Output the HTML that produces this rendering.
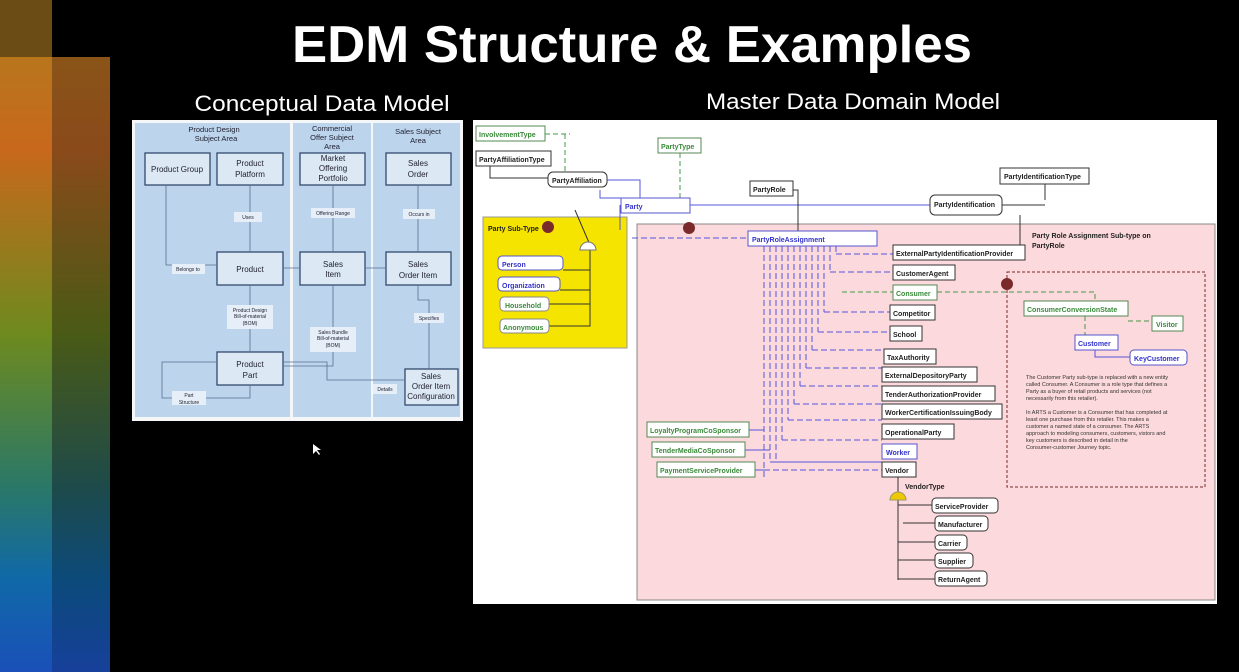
<!DOCTYPE html>
<html><head><meta charset="utf-8"><style>
html,body{margin:0;padding:0;background:#000;width:1239px;height:672px;overflow:hidden}
svg{display:block;font-family:"Liberation Sans",sans-serif}
</style></head><body>
<svg width="1239" height="672" viewBox="0 0 1239 672" xmlns="http://www.w3.org/2000/svg">
<defs>
<linearGradient id="g1" x1="0" y1="0" x2="0" y2="1">
<stop offset="0" stop-color="#b8761c"/><stop offset="0.15" stop-color="#c8681c"/><stop offset="0.45" stop-color="#6e8a1e"/><stop offset="0.7" stop-color="#2a7868"/><stop offset="0.85" stop-color="#1068a8"/><stop offset="1" stop-color="#1a50b8"/></linearGradient>
<linearGradient id="g2" x1="0" y1="0" x2="0" y2="1">
<stop offset="0" stop-color="#8a5418"/><stop offset="0.15" stop-color="#8a4a1a"/><stop offset="0.45" stop-color="#4a5a16"/><stop offset="0.7" stop-color="#1d4a4a"/><stop offset="0.85" stop-color="#0c4a7a"/><stop offset="1" stop-color="#16409a"/></linearGradient>
</defs>
<rect width="1239" height="672" fill="#000"/>
<rect x="0" y="0" width="52" height="57" fill="#6a4c14"/>
<rect x="0" y="57" width="52" height="615" fill="url(#g1)"/>
<rect x="52" y="57" width="58" height="615" fill="url(#g2)"/>
<text x="632" y="62" font-size="52" font-weight="bold" fill="#fff" text-anchor="middle" textLength="680" lengthAdjust="spacingAndGlyphs">EDM Structure &amp; Examples</text>
<text x="322" y="111" font-size="22" fill="#fff" text-anchor="middle" textLength="255" lengthAdjust="spacingAndGlyphs">Conceptual Data Model</text>
<text x="853" y="109" font-size="22" fill="#fff" text-anchor="middle" textLength="294" lengthAdjust="spacingAndGlyphs">Master Data Domain Model</text>

<!-- Left diagram -->
<rect x="132" y="120" width="331" height="301" fill="#f4f6f8"/>
<rect x="135" y="123" width="155" height="294" fill="#bcd4ec"/>
<rect x="293" y="123" width="78" height="294" fill="#bcd4ec"/>
<rect x="373" y="123" width="87" height="294" fill="#bcd4ec"/>
<g font-size="7.5" fill="#223" text-anchor="middle">
<text x="214" y="132">Product Design</text><text x="216" y="141">Subject Area</text>
<text x="332" y="131">Commercial</text><text x="332" y="140">Offer  Subject</text><text x="332" y="149">Area</text>
<text x="418" y="134">Sales   Subject</text><text x="418" y="143">Area</text>
</g>
<g fill="#dce8f4" stroke="#334a6e" stroke-width="1.3">
<rect x="145" y="153" width="65" height="32"/><rect x="217" y="153" width="66" height="32"/>
<rect x="300" y="153" width="65" height="32"/><rect x="386" y="153" width="65" height="32"/>
<rect x="217" y="252" width="66" height="33"/><rect x="300" y="252" width="65" height="33"/>
<rect x="386" y="252" width="65" height="33"/><rect x="217" y="352" width="66" height="33"/>
<rect x="405" y="369" width="53" height="36"/>
</g>
<g stroke="#5a7090" stroke-width="0.8" fill="none">
<path d="M166 185V265H217M250 185V252M333 185V252M418 185V252M250 285V352M333 285V352V366H283M283 268H300M365 268H386M418 285V300H429V369M283 362H327V380H405M217 362H162V398H250V385"/>
</g>
<g font-size="8" fill="#223" text-anchor="middle">
<text x="177" y="172">Product Group</text>
<text x="250" y="166">Product</text><text x="250" y="177">Platform</text>
<text x="333" y="161">Market</text><text x="333" y="171">Offering</text><text x="333" y="181">Portfolio</text>
<text x="418" y="166">Sales</text><text x="418" y="177">Order</text>
<text x="250" y="272">Product</text>
<text x="333" y="267">Sales</text><text x="333" y="277">Item</text>
<text x="418" y="267">Sales</text><text x="418" y="278">Order Item</text>
<text x="250" y="367">Product</text><text x="250" y="378">Part</text>
<text x="431" y="379">Sales</text><text x="431" y="389">Order Item</text><text x="431" y="399">Configuration</text>
</g>
<g fill="#e6eef8"><rect x="234" y="212" width="28" height="10"/><rect x="311" y="208" width="44" height="10"/><rect x="403" y="209" width="32" height="10"/><rect x="172" y="264" width="33" height="10"/><rect x="227" y="305" width="46" height="24"/><rect x="310" y="327" width="46" height="25"/><rect x="414" y="313" width="30" height="10"/><rect x="373" y="384" width="24" height="10"/><rect x="172" y="391" width="34" height="14"/></g>
<g font-size="5" fill="#223" text-anchor="middle">
<text x="248" y="219">Uses</text><text x="333" y="215">Offering Range</text><text x="419" y="216">Occurs in</text><text x="188" y="271">Belongs to</text>
<text x="250" y="312">Product Design</text><text x="250" y="318">Bill-of-material</text><text x="250" y="325">(BOM)</text>
<text x="333" y="334">Sales Bundle</text><text x="333" y="340">Bill-of-material</text><text x="333" y="347">(BOM)</text>
<text x="429" y="320">Specifies</text><text x="385" y="391">Details</text><text x="189" y="397">Part</text><text x="189" y="404">Structure</text>
</g>
<path d="M313 444l0 10 3-3 3 4 1-1-3-4h4z" fill="#fff"/>

<!-- Right diagram -->
<rect x="473" y="120" width="744" height="484" fill="#fff"/>
<rect x="637" y="224" width="578" height="376" fill="#fcd9dc" stroke="#888" stroke-width="1"/>
<rect x="483" y="217" width="144" height="131" fill="#f5e400" stroke="#999"/>
<rect x="1007" y="272" width="198" height="215" fill="none" stroke="#7a2a2a" stroke-width="1" stroke-dasharray="3,2"/>
<g stroke="#5555dd" stroke-width="1" fill="none">
<path d="M690 205H930M607 180H640V198M600 190V198H621M620 205V230"/>
<path d="M770 246V462M776 246V462M782 246V440M788 246V420M794 246V404M800 246V386M806 246V368M812 246V350M818 246V332M824 246V312M830 246V272M836 246V254M764 246V480" stroke-dasharray="6,3"/>
<path d="M836 254H893M830 272H893M824 312H890M818 332H890M812 350H884M806 368H882M800 386H882M794 404H882M788 420H882M782 440H882M776 462H882M770 462H882M764 470H882M632 238H748" stroke-dasharray="6,3"/>
<path d="M749 430H764M745 450H770M755 470H764M1118 357H1130M1095 350V357H1118"/>
</g>
<g stroke="#449944" stroke-width="1" fill="none" stroke-dasharray="5,3"><path d="M545 134H570M565 134V172M680 153V198M842 292H893M937 292H1095V301M1085 316V335M1128 321H1152"/></g>
<g stroke="#333" stroke-width="1" fill="none"><path d="M490 166V178H548M793 190H798V231M1045 184V200M1002 205H1045M1020 215V245M575 210L590 245M590 245V270H563M590 245V290H560M590 245V304H549M590 245V326H549M898 476V580M898 505H932M903 523H935M898 542H935M898 560H935M898 579H935"/></g>
<g font-size="7" font-weight="bold">
<g fill="#fff" stroke="#558855"><rect x="476" y="126" width="69" height="15"/><rect x="658" y="138" width="43" height="15"/><rect x="893" y="285" width="44" height="15"/><rect x="1024" y="301" width="104" height="15"/><rect x="1152" y="316" width="31" height="15"/><rect x="647" y="422" width="102" height="15"/><rect x="652" y="442" width="93" height="15"/><rect x="657" y="462" width="98" height="15"/></g>
<g fill="#fff" stroke="#333"><rect x="476" y="151" width="75" height="15"/><rect x="548" y="172" width="59" height="15" rx="5"/><rect x="750" y="181" width="43" height="15"/><rect x="1000" y="168" width="89" height="16"/><rect x="930" y="195" width="72" height="20" rx="5"/><rect x="893" y="245" width="132" height="15"/><rect x="893" y="265" width="62" height="15"/><rect x="890" y="305" width="45" height="15"/><rect x="890" y="326" width="32" height="15"/><rect x="884" y="349" width="52" height="15"/><rect x="882" y="367" width="95" height="15"/><rect x="882" y="386" width="113" height="15"/><rect x="882" y="404" width="120" height="15"/><rect x="882" y="424" width="72" height="15"/><rect x="882" y="462" width="34" height="15"/><rect x="932" y="498" width="66" height="15" rx="4"/><rect x="935" y="516" width="53" height="15" rx="4"/><rect x="935" y="535" width="32" height="15" rx="4"/><rect x="935" y="553" width="38" height="15" rx="4"/><rect x="935" y="571" width="52" height="15" rx="4"/></g>
<g fill="#fff" stroke="#5555cc"><rect x="621" y="198" width="69" height="15"/><rect x="748" y="231" width="129" height="15"/><rect x="882" y="444" width="35" height="15"/><rect x="1075" y="335" width="43" height="15"/><rect x="1130" y="350" width="57" height="15" rx="4"/><rect x="498" y="256" width="65" height="14" rx="4"/><rect x="498" y="277" width="62" height="14" rx="4"/></g>
<g fill="#fff" stroke="#888"><rect x="500" y="297" width="49" height="14" rx="4"/><rect x="500" y="319" width="49" height="14" rx="4"/></g>
<g fill="#3a8a3a"><text x="479" y="137">InvolvementType</text><text x="661" y="149">PartyType</text><text x="896" y="296">Consumer</text><text x="1027" y="312">ConsumerConversionState</text><text x="1156" y="327">Visitor</text><text x="650" y="433">LoyaltyProgramCoSponsor</text><text x="655" y="453">TenderMediaCoSponsor</text><text x="660" y="473">PaymentServiceProvider</text><text x="505" y="308">Household</text><text x="503" y="330">Anonymous</text></g>
<g fill="#3333cc"><text x="625" y="209">Party</text><text x="752" y="242">PartyRoleAssignment</text><text x="886" y="455">Worker</text><text x="1078" y="346">Customer</text><text x="1134" y="361">KeyCustomer</text><text x="502" y="267">Person</text><text x="502" y="288">Organization</text></g>
<g fill="#222"><text x="479" y="162">PartyAffiliationType</text><text x="552" y="183">PartyAffiliation</text><text x="753" y="192">PartyRole</text><text x="1004" y="179">PartyIdentificationType</text><text x="934" y="207">PartyIdentification</text><text x="896" y="256">ExternalPartyIdentificationProvider</text><text x="896" y="276">CustomerAgent</text><text x="893" y="316">Competitor</text><text x="893" y="337">School</text><text x="887" y="360">TaxAuthority</text><text x="885" y="378">ExternalDepositoryParty</text><text x="885" y="397">TenderAuthorizationProvider</text><text x="885" y="415">WorkerCertificationIssuingBody</text><text x="885" y="435">OperationalParty</text><text x="885" y="473">Vendor</text><text x="905" y="489">VendorType</text><text x="935" y="509">ServiceProvider</text><text x="938" y="527">Manufacturer</text><text x="938" y="546">Carrier</text><text x="938" y="564">Supplier</text><text x="938" y="582">ReturnAgent</text><text x="488" y="231">Party Sub-Type</text><text x="1032" y="238">Party Role Assignment Sub-type on</text><text x="1032" y="248">PartyRole</text></g>
</g>
<path d="M890 500a8 8 0 0 1 16 0z" fill="#f0c800" stroke="#996"/>
<path d="M580 250a8 8 0 0 1 16 0z" fill="#fff" stroke="#777"/>
<g fill="#7a2a2a"><circle cx="548" cy="227" r="6"/><circle cx="689" cy="228" r="6"/><circle cx="1007" cy="284" r="6"/></g>
<g font-size="5.5" fill="#333">
<text x="1026" y="379">The Customer Party sub-type is replaced with a new entity</text>
<text x="1026" y="386">called Consumer.  A Consumer is a role type that defines a</text>
<text x="1026" y="393">Party as a buyer of retail products and services (not</text>
<text x="1026" y="400">necessarily from this retailer).</text>
<text x="1026" y="414">In ARTS a Customer is a Consumer that has completed at</text>
<text x="1026" y="421">least one purchase from this retailer.  This makes a</text>
<text x="1026" y="428">customer  a named state of a consumer.  The ARTS</text>
<text x="1026" y="435">approach to modeling consumers, customers, vistors and</text>
<text x="1026" y="442">key customers is described in detail in the</text>
<text x="1026" y="449">Consumer-customer Journey topic.</text>
</g>
</svg>
</body></html>
